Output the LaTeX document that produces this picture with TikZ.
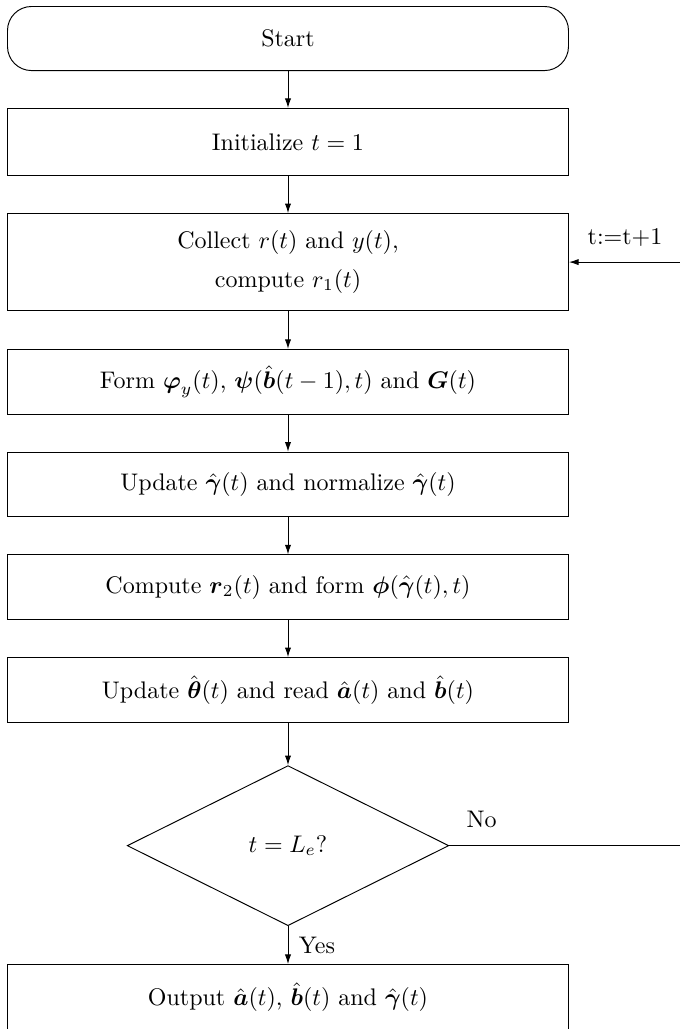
\documentclass[tikz,border=0pt]{standalone}
\usepackage{amssymb}
\usepackage{amsmath}
\usetikzlibrary{calc,positioning,shapes.geometric,arrows.meta}
\newcommand{\hatgamma}{\ensuremath{\hat{\boldsymbol{\gamma}}}}
\newcommand{\hata}{\ensuremath{\hat{\boldsymbol{a}}}}
\newcommand{\hatb}{\ensuremath{\hat{\boldsymbol{b}}}}
\newcommand{\hattheta}{\ensuremath{\hat{\boldsymbol{\theta}}}}

\tikzset{
  terminal/.style={rectangle, draw, rounded corners=10pt, minimum width=233.75pt, minimum height=26.7pt, align=center},
  process/.style={rectangle, draw, minimum width=233.75pt, minimum height=27pt, align=center},
  decision/.style={diamond, draw, minimum width=134pt, minimum height=66.7pt, inner sep=0pt},
  line/.style={draw, -{Latex[length=4pt,width=2.6pt]}},
}

\begin{document}
\begin{tikzpicture}[node distance=15.4pt]
\useasboundingbox (-120pt,2.5pt) rectangle (163.3pt,-426.25pt);
\node [terminal, anchor=north] (start) at (0,0) {Start};
\node [process, below=of start, minimum height=28pt] (init) {Initialize $t=1$};
\node [process, below=of init, minimum height=40.4pt] (collect) {Collect $r(t)$ and $y(t)$,\\[4pt] compute $r_1(t)$};
\node [process, below=15.8pt of collect] (form) {Form $\boldsymbol{\varphi}_y(t)$, $\boldsymbol{\psi}(\hatb(t-1),t)$ and $\boldsymbol{G}(t)$};
\node [process, below=of form] (normalize) {Update $\hatgamma(t)$ and normalize $\hatgamma(t)$};
\node [process, below=of normalize] (compute) {Compute $\boldsymbol{r}_2(t)$ and form $\boldsymbol{\phi}(\hatgamma(t),t)$};
\node [process, below=of compute] (update) {Update $\hattheta(t)$ and read $\hata(t)$ and $\hatb(t)$};
\node [decision, below=17.6pt of update] (check) {$t=L_e$?};
\node [process, below=15.8pt of check] (output) {Output $\hata(t)$, $\hatb(t)$ and $\hatgamma(t)$};
\coordinate (loop) at ($(check.center)+(163.8pt,0)$);

\path [line] (start) -- (init);
\path [line] (init) -- (collect);
\path [line] (collect) -- (form);
\path [line] (form) -- (normalize);
\path [line] (normalize) -- (compute);
\path [line] (compute) -- (update);
\path [line] (update) -- (check);
\path [line] (check) -- node[right=1pt] {Yes} (output);
\path [line] (check.east) -- node[above=4pt, pos=0.14] {No} (loop)
  |- node[above=3pt, pos=0.75] {t:=t+1} (collect.east);
\end{tikzpicture}
\end{document}
